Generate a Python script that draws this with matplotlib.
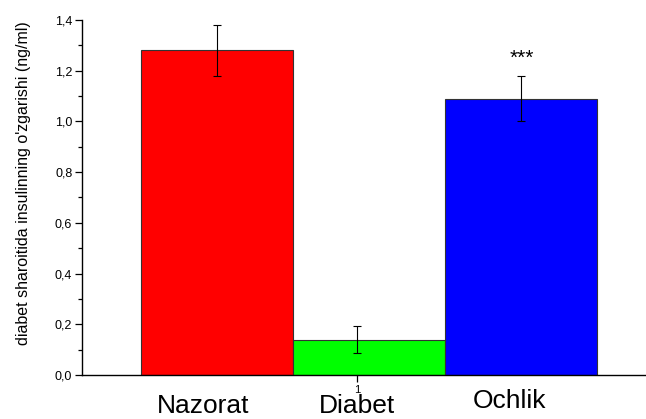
import numpy as np
import matplotlib.pyplot as plt

# values
groups = ["Nazorat", "Diabet", "Ochlik"]
means = [1.28, 0.138, 1.09]
errs_lo = [0.10, 0.053, 0.09]
errs_hi = [0.10, 0.057, 0.09]
colors = ["#ff0000", "#00ff00", "#0000ff"]
bar_x = [0.075, 1.08, 2.08]
err_x = [0.075, 1.0, 2.08]
label_x = [-0.014, 1.0, 2.0]
label_y = [-0.150, -0.150, -0.132]

fig = plt.figure(figsize=(6.46, 4.19), dpi=100)
ax = fig.add_axes([82 / 646, 1 - 375 / 419, 1 - 82 / 646, (375 - 20) / 419])

ax.bar(bar_x, means, width=1.0, color=colors, edgecolor="#333333", linewidth=0.8, zorder=2)
ax.errorbar(err_x, means, yerr=[errs_lo, errs_hi], fmt="none", ecolor="black",
            elinewidth=0.8, capsize=3, capthick=0.8, zorder=3)

ax.text(2.08, 1.25, "***", ha="center", va="center", fontsize=15, family="Liberation Sans")

ax.set_xlim(-0.81, 2.9)
ax.set_ylim(0, 1.4)
ax.spines["top"].set_visible(False)
ax.spines["right"].set_visible(False)
ax.spines["left"].set_linewidth(1.0)
ax.spines["bottom"].set_linewidth(1.0)
ax.set_yticks(np.arange(0, 1.41, 0.2))
ax.set_yticklabels([f"{v:.1f}".replace(".", ",") for v in np.arange(0, 1.41, 0.2)])
ax.set_yticks(np.arange(0.1, 1.4, 0.2), minor=True)
ax.set_xticks([1])
ax.set_xticklabels(["1"])
ax.tick_params(axis="both", direction="out", labelsize=9, length=5, width=0.9, pad=2)
ax.tick_params(axis="y", which="minor", length=3, width=0.9)
ax.tick_params(axis="x", labelsize=8, pad=2)
for lab in ax.get_xticklabels() + ax.get_yticklabels():
    lab.set_family("Liberation Sans")

ax.set_ylabel("diabet sharoitida insulinning o'zgarishi (ng/ml)", fontsize=11.5,
              family="Liberation Sans", va="center")
ax.yaxis.set_label_coords(-0.103, 0.54)

# category names under the bars, slightly staggered as in the original
for name, lx, ly in zip(groups, label_x, label_y):
    ax.text(lx, ly, name, ha="center", va="baseline", fontsize=19,
            family="Liberation Sans", clip_on=False)

fig.savefig("out.png", dpi=100)
